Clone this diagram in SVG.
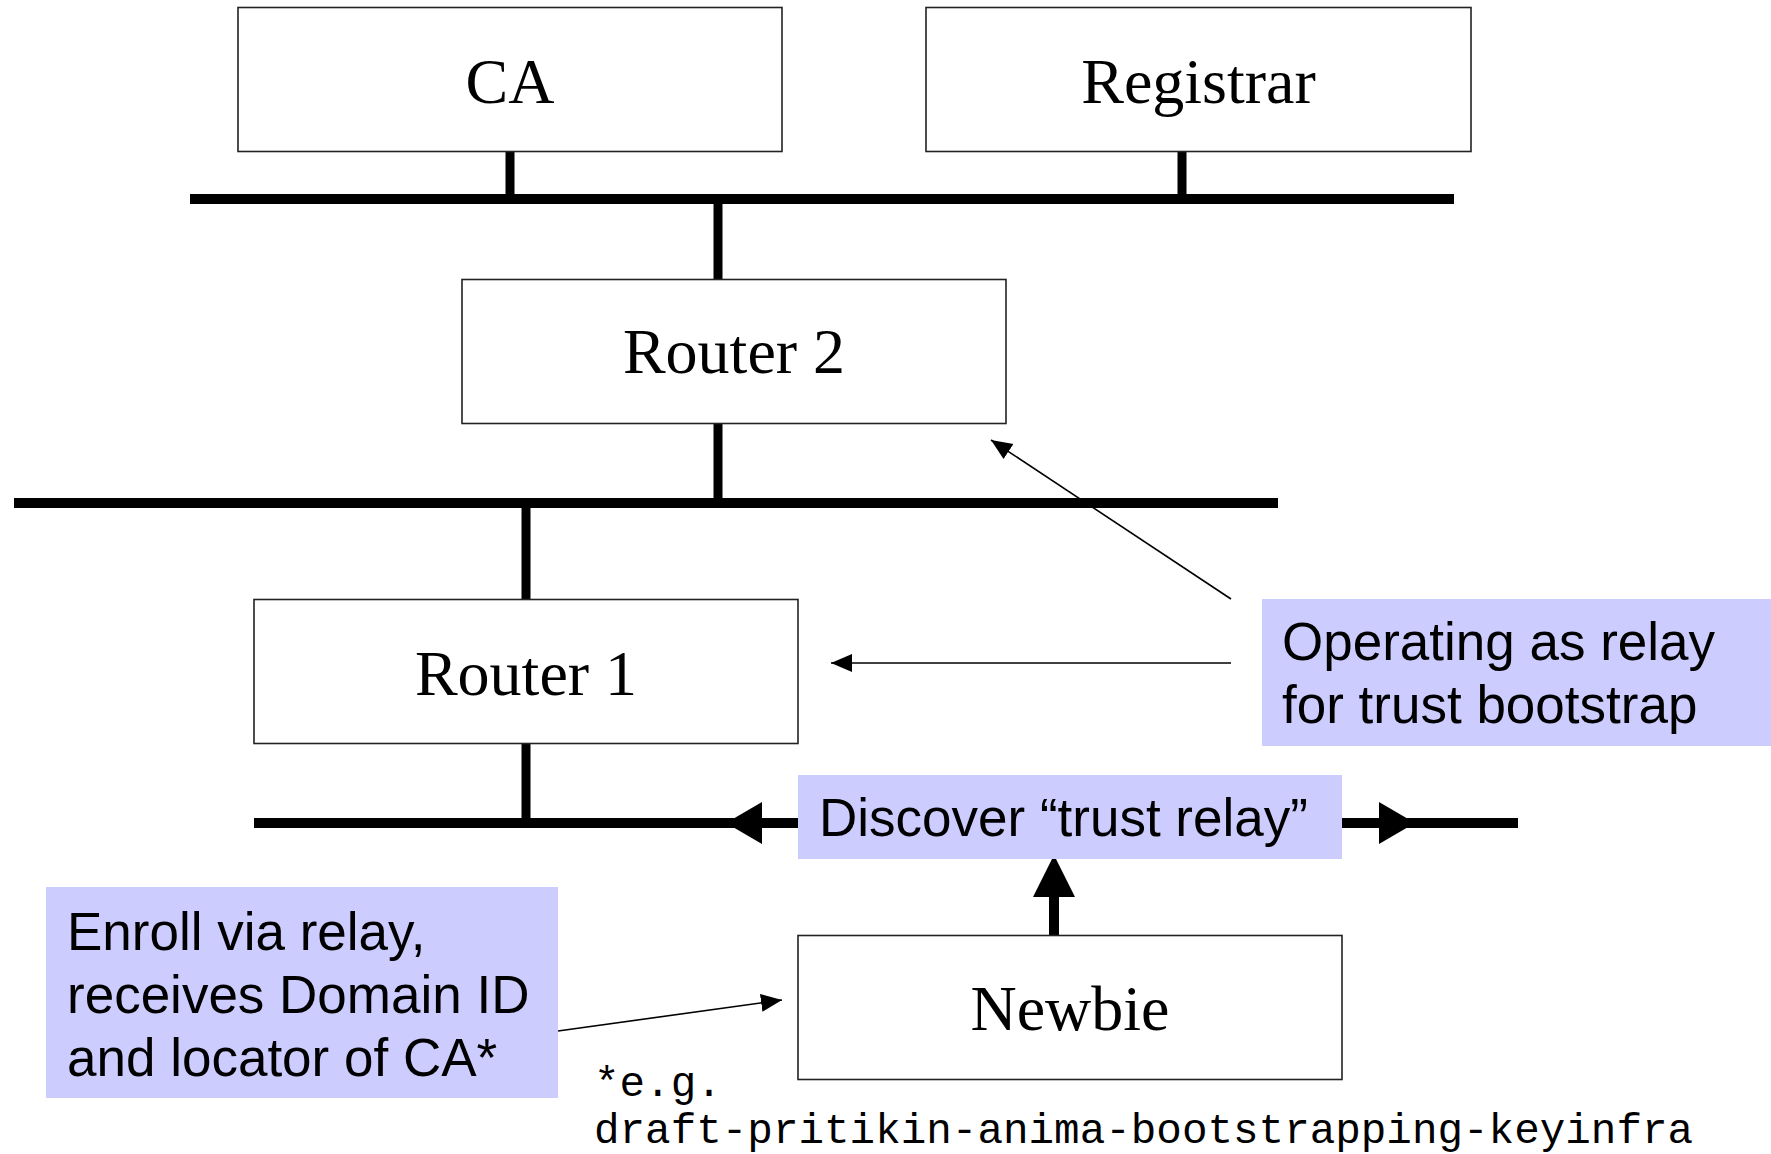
<svg xmlns="http://www.w3.org/2000/svg" width="1771" height="1154" viewBox="0 0 1771 1154">
  <style>
    .box { fill: #ffffff; stroke: #222222; stroke-width: 1.6; }
    .note { fill: #ccccff; stroke: none; }
    .serif { font-family: "Liberation Serif", "Times New Roman", serif; font-size: 64px; fill: #000; text-anchor: middle; }
    .sans { font-family: "Liberation Sans", Arial, sans-serif; font-size: 53px; fill: #000; }
    .mono { font-family: "Liberation Mono", "Courier New", monospace; font-size: 42.6px; fill: #000; }
    .bus { stroke: #000; stroke-width: 10; fill: none; }
    .drop { stroke: #000; stroke-width: 9; fill: none; }
    .thin { stroke: #000; stroke-width: 1.6; fill: none; }
    .head { fill: #000; stroke: none; }
  </style>
  <defs>
    <marker id="arrow" markerUnits="userSpaceOnUse" markerWidth="22" markerHeight="20" viewBox="0 0 22 20" refX="21" refY="10" orient="auto">
      <path d="M0,1 L21,10 L0,19 Z" fill="#000"/>
    </marker>
  </defs>

  <!-- network segments, drops and arrows -->
  <g id="connectors">
    <line class="bus" x1="190" y1="199" x2="1454" y2="199"/>
    <line class="bus" x1="14" y1="503" x2="1278" y2="503"/>
    <line class="bus" x1="254" y1="823" x2="798" y2="823"/>
    <line class="bus" x1="1342" y1="823" x2="1518" y2="823"/>

    <line class="drop" x1="510" y1="151" x2="510" y2="199"/>
    <line class="drop" x1="1182" y1="151" x2="1182" y2="199"/>
    <line class="drop" x1="718" y1="199" x2="718" y2="280"/>
    <line class="drop" x1="718" y1="423" x2="718" y2="503"/>
    <line class="drop" x1="526" y1="503" x2="526" y2="600"/>
    <line class="drop" x1="526" y1="743" x2="526" y2="823"/>

    <!-- discovery broadcast heads on the local segment -->
    <path class="head" d="M726,823 L762,802 L762,844 Z"/>
    <path class="head" d="M1415,823 L1379,802 L1379,844 Z"/>

    <!-- newbie to discovery -->
    <line stroke="#000" stroke-width="10" x1="1054" y1="936" x2="1054" y2="895"/>
    <path class="head" d="M1054,855 L1033,897 L1075,897 Z"/>

    <!-- callouts -->
    <line class="thin" x1="1231" y1="599" x2="991" y2="440" marker-end="url(#arrow)"/>
    <line class="thin" x1="1231" y1="663" x2="831" y2="663" marker-end="url(#arrow)"/>
    <line class="thin" x1="558" y1="1031" x2="782" y2="1000" marker-end="url(#arrow)"/>
  </g>

  <g id="ca">
    <rect class="box" x="238" y="7.5" width="544" height="144"/>
    <text class="serif" x="510" y="103">CA</text>
  </g>

  <g id="registrar">
    <rect class="box" x="926" y="7.5" width="545" height="144"/>
    <text class="serif" x="1198.5" y="103">Registrar</text>
  </g>

  <g id="router2">
    <rect class="box" x="462" y="279.5" width="544" height="144"/>
    <text class="serif" x="734" y="373">Router 2</text>
  </g>

  <g id="router1">
    <rect class="box" x="254" y="599.5" width="544" height="144"/>
    <text class="serif" x="526" y="695">Router 1</text>
  </g>

  <g id="newbie">
    <rect class="box" x="798" y="935.5" width="544" height="144"/>
    <text class="serif" x="1070" y="1030">Newbie</text>
  </g>

  <g id="discover">
    <rect class="note" x="798" y="775" width="544" height="84"/>
    <text class="sans" x="819" y="836">Discover “trust relay”</text>
  </g>

  <g id="relay-note">
    <rect class="note" x="1262" y="599" width="509" height="147"/>
    <text class="sans" x="1282" y="660">Operating as relay</text>
    <text class="sans" x="1282" y="723">for trust bootstrap</text>
  </g>

  <g id="enroll-note">
    <rect class="note" x="46" y="887" width="512" height="211"/>
    <text class="sans" x="67" y="950">Enroll via relay,</text>
    <text class="sans" x="67" y="1013">receives Domain ID</text>
    <text class="sans" x="67" y="1076">and locator of CA*</text>
  </g>

  <g id="footnote">
    <text class="mono" x="594" y="1096">*e.g.</text>
    <text class="mono" x="594" y="1143">draft-pritikin-anima-bootstrapping-keyinfra</text>
  </g>
</svg>
